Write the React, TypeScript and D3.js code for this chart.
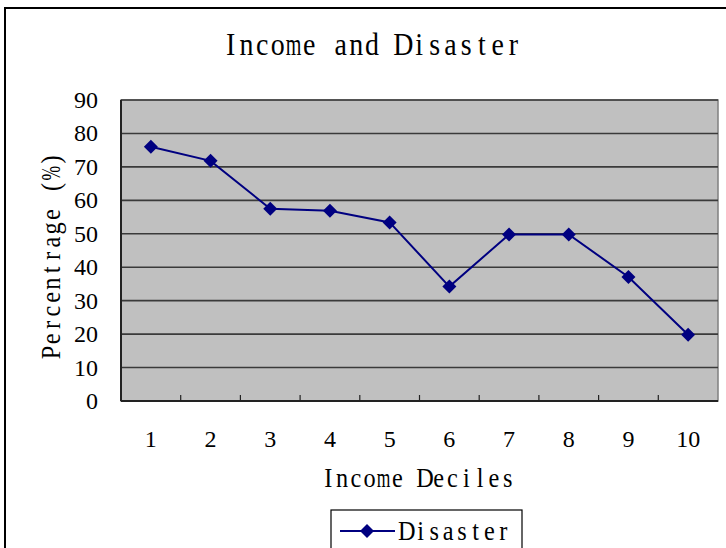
import React from "react";
import * as d3 from "d3";

const categories = ["1", "2", "3", "4", "5", "6", "7", "8", "9", "10"];
const disaster = [76, 71.8, 57.5, 56.9, 53.4, 34.2, 49.8, 49.8, 37.1, 19.8];
const yTicks = [0, 10, 20, 30, 40, 50, 60, 70, 80, 90];

const W = 726;
const H = 548;
const plot = { left: 121, right: 718, top: 100, bottom: 401 };
const serif = "'Liberation Serif', 'DejaVu Serif', serif";

function MonoText(props: {
  text: string;
  cx: number;
  y: number;
  cell: number;
  size: number;
  sx?: number;
  rotate?: number;
}) {
  const { text, cx, y, cell, size, sx = 0.9, rotate = 0 } = props;
  const chars = Array.from(text);
  const n = chars.length;
  return (
    <g transform={`translate(${cx},${y}) rotate(${rotate})`}>
      {chars.map((ch, i) => {
        if (ch === " ") return null;
        const s = /[mMwW%]/.test(ch) ? sx * 0.72 : sx;
        return (
          <text
            key={i}
            transform={`translate(${(i - (n - 1) / 2) * cell},0) scale(${s},1)`}
            fontFamily={serif}
            fontSize={size}
            fill="#000"
            textAnchor="middle"
          >
            {ch}
          </text>
        );
      })}
    </g>
  );
}

export default function App() {
  const x = d3.scaleBand<string>().domain(categories).range([plot.left, plot.right]).padding(0);
  const y = d3.scaleLinear().domain([0, 90]).range([plot.bottom, plot.top]);
  const cxOf = (i: number) => (x(categories[i]) as number) + x.bandwidth() / 2;
  const line = d3
    .line<number>()
    .x((_, i) => cxOf(i))
    .y((d) => y(d));
  const diamond = (cx: number, cy: number, r: number) =>
    `M${cx},${cy - r}L${cx + r},${cy}L${cx},${cy + r}L${cx - r},${cy}Z`;

  return (
    <svg
      width={W}
      height={H}
      style={{ position: "absolute", left: 0, top: 0, background: "#fff" }}
    >
      <rect x={5} y={8} width={W + 10} height={H + 10} fill="#fff" stroke="#000" strokeWidth={2} />
      <MonoText text="Income and Disaster" cx={372} y={55} cell={15.7} size={31} />
      <rect
        x={plot.left}
        y={plot.top}
        width={plot.right - plot.left}
        height={plot.bottom - plot.top}
        fill="#c0c0c0"
        stroke="#808080"
        strokeWidth={1.5}
      />
      {yTicks.slice(1).map((t) => (
        <line
          key={t}
          x1={plot.left}
          x2={plot.right}
          y1={y(t)}
          y2={y(t)}
          stroke="#3a3a3a"
          strokeWidth={1.6}
        />
      ))}
      <line x1={plot.left} x2={plot.left} y1={plot.top} y2={plot.bottom} stroke="#222" strokeWidth={2} />
      <line x1={plot.left} x2={plot.right} y1={plot.bottom} y2={plot.bottom} stroke="#222" strokeWidth={2} />
      {categories.slice(1).map((c) => (
        <line
          key={c}
          x1={x(c) as number}
          x2={x(c) as number}
          y1={plot.bottom}
          y2={plot.bottom - 6}
          stroke="#222"
          strokeWidth={1.2}
        />
      ))}
      {yTicks.map((t) => (
        <text
          key={t}
          x={98}
          y={y(t) + 8}
          textAnchor="end"
          fontFamily={serif}
          fontSize={24}
          fill="#000"
        >
          {t}
        </text>
      ))}
      {categories.map((c, i) => (
        <text
          key={c}
          x={cxOf(i)}
          y={447}
          textAnchor="middle"
          fontFamily={serif}
          fontSize={24}
          fill="#000"
        >
          {c}
        </text>
      ))}
      <MonoText text="Income Deciles" cx={418} y={487} cell={13.8} size={27} />
      <MonoText text="Percentrage (%)" cx={60} y={256} cell={13.8} size={27} rotate={-90} />
      <path d={line(disaster) || ""} fill="none" stroke="#000080" strokeWidth={2} />
      {disaster.map((v, i) => (
        <path key={i} d={diamond(cxOf(i), y(v), 7)} fill="#000080" />
      ))}
      <rect x={331} y={510} width={191} height={50} fill="#fff" stroke="#000" strokeWidth={1.2} />
      <line x1={340} x2={395} y1={531} y2={531} stroke="#000080" strokeWidth={2} />
      <path d={diamond(367, 531, 7)} fill="#000080" />
      <MonoText text="Disaster" cx={455} y={540} cell={13.8} size={27} />
    </svg>
  );
}
